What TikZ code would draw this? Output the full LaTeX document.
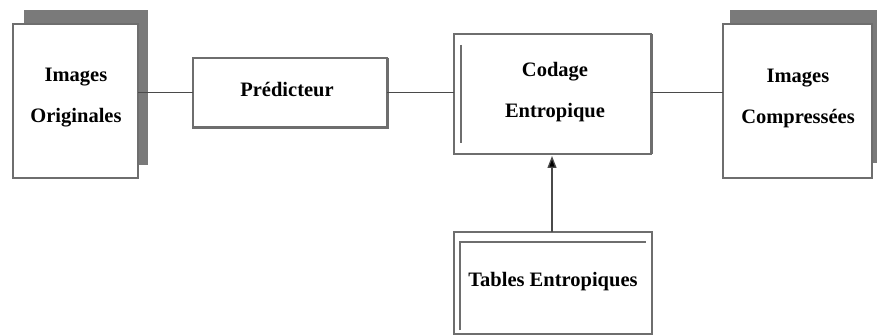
\documentclass[tikz,border=0pt]{standalone}
\usepackage{fontspec}
\setmainfont{Liberation Serif}
\usetikzlibrary{arrows.meta}
\definecolor{edgegray}{HTML}{6E6E6E}
\definecolor{shadowgray}{HTML}{7A7A7A}
\definecolor{linegray}{HTML}{4A4A4A}
\tikzset{
  txt/.style={font=\bfseries\fontsize{20.5}{41}\selectfont, align=center, text=black},
  frontbox/.style={draw=edgegray, line width=1.2pt, fill=white, inner sep=0pt, outer sep=0pt},
  shadowbox/.style={fill=shadowgray, draw=none, inner sep=0pt, outer sep=0pt},
  framebox/.style={draw=edgegray, line width=1.8pt, fill=white, inner sep=0pt, outer sep=0pt},
  conn/.style={draw=linegray, line width=1pt},
  heavy/.style={draw=edgegray, line width=3pt},
  innerln/.style={draw=edgegray, line width=1.8pt}
}
\begin{document}
\begin{tikzpicture}[x=1pt,y=-1pt]
\useasboundingbox (0,0) rectangle (877,336);
% Images Originales
\node[shadowbox, minimum width=124pt, minimum height=155pt] (origsh) at (86,87.5) {};
\node[frontbox, minimum width=125pt, minimum height=154pt] (orig) at (75.5,101) {};
\node[txt] (origt) at (76,98) {Images\\Originales};
% Predicteur
\node[framebox, line width=1.3pt, minimum width=194pt, minimum height=70pt] (pred) at (290,93) {};
\draw[heavy] (pred.north east) -- (pred.south east) -- (pred.south west);
\node[txt] (predt) at (287,90) {Prédicteur};
% Codage Entropique
\node[framebox, minimum width=197pt, minimum height=120pt] (cod) at (552.5,94) {};
\draw[heavy] (cod.north east) -- (cod.south east);
\coordinate (codil1) at (461,45);
\coordinate (codil2) at (461,143);
\draw[innerln] (codil1) -- (codil2);
\node[txt] (codt) at (555,92) {Codage\\Entropique};
% Images Compressees
\node[shadowbox, minimum width=150pt, minimum height=153pt] (compsh) at (805,86.5) {};
\node[frontbox, minimum width=149pt, minimum height=154pt] (comp) at (797.5,101) {};
\node[txt] (compt) at (798,98) {Images\\Compressées};
% Tables Entropiques
\node[framebox, minimum width=198pt, minimum height=102pt] (tab) at (553,283) {};
\coordinate (tabil1) at (460,330);
\coordinate (tabil2) at (460,242);
\coordinate (tabil3) at (646,242);
\draw[innerln, line width=1.5pt] (tabil1) -- (tabil2) -- (tabil3);
\node[txt] (tabt) at (553,282) {Tables Entropiques};
% connectors
\draw[conn] (pred.west -| orig.east) -- (pred.west);
\draw[conn] (pred.east) -- (pred.east -| cod.west);
\draw[conn] (pred.east -| cod.east) -- (pred.east -| comp.west);
\draw[conn, line width=1.3pt, -{Triangle[length=12pt, width=9pt, fill=black]}, shorten >=2pt] (tab.north -| 552,0) -- (cod.south -| 552,0);
\end{tikzpicture}
\end{document}
